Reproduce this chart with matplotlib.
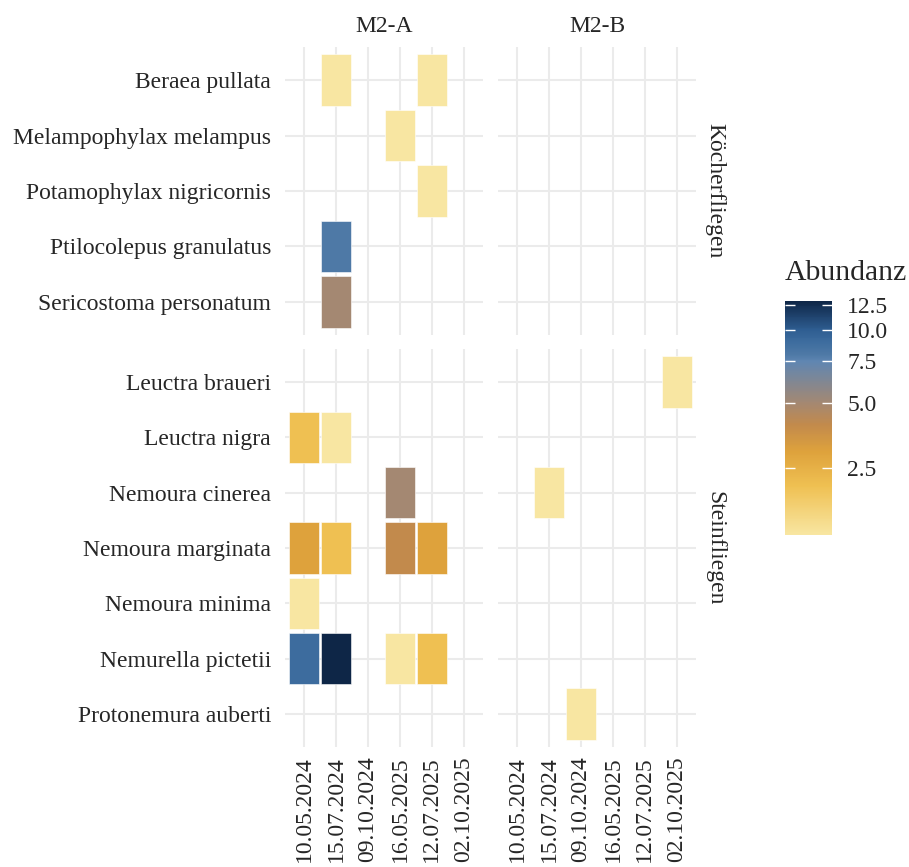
import numpy as np
import matplotlib
matplotlib.use("Agg")
import matplotlib.pyplot as plt
from matplotlib import colors, cm

plt.rcParams['font.family'] = ['Liberation Serif', 'DejaVu Serif']

# --- data -------------------------------------------------------------
dates = ['10.05.2024', '15.07.2024', '09.10.2024', '16.05.2025', '12.07.2025', '02.10.2025']
sites = ['M2-A', 'M2-B']
groups = ['Köcherfliegen', 'Steinfliegen']
group_species = {
    'Köcherfliegen': ['Beraea pullata', 'Melampophylax melampus', 'Potamophylax nigricornis',
                      'Ptilocolepus granulatus', 'Sericostoma personatum'],
    'Steinfliegen': ['Leuctra braueri', 'Leuctra nigra', 'Nemoura cinerea', 'Nemoura marginata',
                     'Nemoura minima', 'Nemurella pictetii', 'Protonemura auberti'],
}

rec_site = ['M2-A'] * 18 + ['M2-B'] * 3
rec_species = [
    'Beraea pullata', 'Beraea pullata', 'Melampophylax melampus', 'Potamophylax nigricornis',
    'Ptilocolepus granulatus', 'Sericostoma personatum',
    'Leuctra nigra', 'Leuctra nigra', 'Nemoura cinerea',
    'Nemoura marginata', 'Nemoura marginata', 'Nemoura marginata', 'Nemoura marginata',
    'Nemoura minima',
    'Nemurella pictetii', 'Nemurella pictetii', 'Nemurella pictetii', 'Nemurella pictetii',
    'Leuctra braueri', 'Nemoura cinerea', 'Protonemura auberti',
]
rec_date = [
    '15.07.2024', '12.07.2025', '16.05.2025', '12.07.2025',
    '15.07.2024', '15.07.2024',
    '10.05.2024', '15.07.2024', '16.05.2025',
    '10.05.2024', '15.07.2024', '16.05.2025', '12.07.2025',
    '10.05.2024',
    '10.05.2024', '15.07.2024', '16.05.2025', '12.07.2025',
    '02.10.2025', '15.07.2024', '09.10.2024',
]
rec_abund = [1, 1, 1, 1, 8, 5,
             2, 1, 5,
             3, 2, 4, 3,
             1,
             9, 13, 1, 2,
             1, 1, 1]

cbar_ticks = [2.5, 5.0, 7.5, 10.0, 12.5]

# --- colour scale (log1p) --------------------------------------------
vmin, vmax = 1, 13
norm = colors.FuncNorm((np.log1p, np.expm1), vmin=vmin, vmax=vmax)


def tpos(v):
    return (np.log1p(v) - np.log1p(vmin)) / (np.log1p(vmax) - np.log1p(vmin))


stops = [(0.0, '#F8E6A2'), (tpos(2), '#EFC052'), (tpos(3), '#DEA23C'), (tpos(4), '#C28A4C'),
         (tpos(5), '#A48872'), (tpos(7.5), '#5F86B2'), (tpos(8), '#4E79A6'),
         (tpos(9), '#3D6C9E'), (tpos(10), '#2F5E92'), (1.0, '#0E2647')]
cmap = colors.LinearSegmentedColormap.from_list('abund', stops)

# --- layout -----------------------------------------------------------
W, H = 909, 867
fig = plt.figure(figsize=(W / 100, H / 100), dpi=100)
txt_col = '#262626'
fs = 17

col_x = {'M2-A': (285, 483), 'M2-B': (498, 696)}
row_y = {'Köcherfliegen': (47, 335), 'Steinfliegen': (349, 747)}

tile = 0.93
for g in groups:
    spp = group_species[g]
    for s in sites:
        x0, x1 = col_x[s]
        y0, y1 = row_y[g]
        ax = fig.add_axes([x0 / W, 1 - y1 / H, (x1 - x0) / W, (y1 - y0) / H])
        ax.set_xlim(-0.6, len(dates) - 0.4)
        ax.set_ylim(len(spp) - 0.4, -0.6)
        ax.set_xticks(range(len(dates)))
        ax.set_yticks(range(len(spp)))
        ax.grid(True, color='#EBEBEB', linewidth=1.5, zorder=0)
        ax.set_axisbelow(True)
        for sp in ax.spines.values():
            sp.set_visible(False)
        ax.tick_params(length=0, labelsize=fs, labelcolor=txt_col)
        ax.tick_params(axis='y', pad=10)
        ax.tick_params(axis='x', pad=7)

        for site, spc, d, a in zip(rec_site, rec_species, rec_date, rec_abund):
            if site != s or spc not in spp:
                continue
            xi = dates.index(d)
            yi = spp.index(spc)
            ax.bar(xi, tile, bottom=yi - tile / 2, width=tile,
                   color=cmap(norm(a)), edgecolor='white', linewidth=0.4, zorder=2)

        if s == 'M2-A':
            ax.set_yticklabels(spp)
        else:
            ax.set_yticklabels([])
        if g == 'Steinfliegen':
            ax.set_xticklabels(dates, rotation=90)
        else:
            ax.set_xticklabels([])

# strip labels
for s in sites:
    x0, x1 = col_x[s]
    fig.text((x0 + x1) / 2 / W, 1 - 26 / H, s, ha='center', va='center', size=fs, color=txt_col)
for g in groups:
    y0, y1 = row_y[g]
    fig.text(715 / W, 1 - (y0 + y1) / 2 / H, g, ha='center', va='center', rotation=-90,
             size=fs, color=txt_col)

# colour bar
cax = fig.add_axes([785 / W, 1 - 535 / H, 47 / W, 234 / H])
cb = fig.colorbar(cm.ScalarMappable(norm=norm, cmap=cmap), cax=cax)
cb.outline.set_visible(False)
cb.set_ticks(cbar_ticks)
cb.set_ticklabels([f'{t:.1f}' for t in cbar_ticks])
cax.minorticks_off()
cax.tick_params(which='both', direction='in', left=True, right=True, color='white',
                length=7, width=1, labelsize=fs, labelcolor=txt_col, pad=11)
fig.text(785 / W, 1 - 273 / H, 'Abundanz', ha='left', va='center', size=21.4, color=txt_col)

fig.savefig('out.png', dpi=100, facecolor='white')
